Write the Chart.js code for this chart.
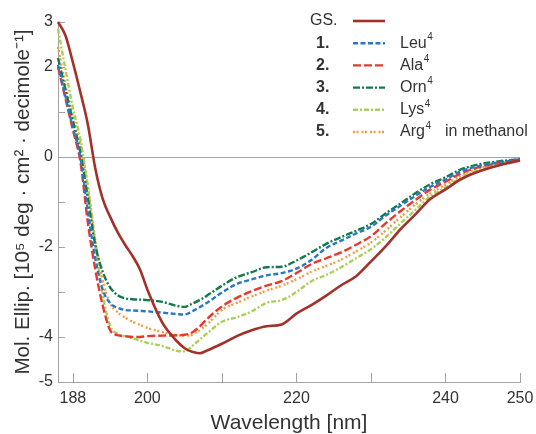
<!DOCTYPE html>
<html>
<head>
<meta charset="utf-8">
<script src="https://cdn.jsdelivr.net/npm/chart.js@4.4.1/dist/chart.umd.min.js"></script>
<style>
  html, body { margin: 0; padding: 0; background: #ffffff; }
  #wrap { width: 536px; height: 434px; position: relative; }
</style>
</head>
<body>
<div id="wrap"><canvas id="c" width="536" height="434"></canvas></div>
<script>
// ---- data ----
const wavelengths = [188,189,190,191,192,193,194,195,196,197,198,199,200,202,204,205,206,207,208,210,212,214,216,218,220,222,224,226,228,230,232,234,236,238,240,242,244,246,248,250];

const gsValues  = [3.0,2.7,2.1,1.44,0.73,-0.25,-0.93,-1.33,-1.67,-1.95,-2.2,-2.5,-2.95,-3.68,-4.1,-4.25,-4.33,-4.36,-4.3,-4.15,-3.98,-3.85,-3.76,-3.72,-3.48,-3.29,-3.08,-2.85,-2.65,-2.32,-1.98,-1.6,-1.27,-0.93,-0.72,-0.5,-0.35,-0.24,-0.15,-0.08];
const leuValues = [2.05,1.35,0.65,0.0,-1.2,-2.25,-2.95,-3.25,-3.35,-3.4,-3.41,-3.42,-3.43,-3.46,-3.49,-3.5,-3.43,-3.34,-3.24,-3.01,-2.82,-2.72,-2.63,-2.58,-2.48,-2.29,-2.02,-1.86,-1.7,-1.55,-1.3,-1.08,-0.86,-0.66,-0.5,-0.32,-0.22,-0.15,-0.1,-0.05];
const alaValues = [2.0,1.3,0.6,-0.1,-1.45,-2.5,-3.3,-3.85,-3.96,-3.98,-4.0,-4.0,-3.98,-3.97,-3.96,-3.95,-3.9,-3.77,-3.6,-3.32,-3.13,-2.98,-2.86,-2.76,-2.58,-2.38,-2.25,-2.12,-1.95,-1.76,-1.47,-1.2,-0.95,-0.72,-0.55,-0.37,-0.25,-0.17,-0.11,-0.06];
const ornValues = [2.2,1.5,0.8,0.1,-0.9,-1.95,-2.55,-2.9,-3.07,-3.14,-3.16,-3.17,-3.18,-3.22,-3.31,-3.33,-3.26,-3.18,-3.08,-2.86,-2.67,-2.56,-2.45,-2.44,-2.3,-2.12,-1.93,-1.78,-1.64,-1.49,-1.25,-1.03,-0.8,-0.6,-0.45,-0.28,-0.18,-0.12,-0.08,-0.05];
const lysValues = [2.85,1.95,1.1,0.4,-0.65,-1.9,-3.05,-3.75,-3.93,-3.98,-4.03,-4.08,-4.13,-4.2,-4.31,-4.32,-4.2,-4.06,-3.92,-3.66,-3.56,-3.43,-3.24,-3.18,-3.0,-2.76,-2.62,-2.45,-2.25,-2.05,-1.78,-1.47,-1.17,-0.87,-0.68,-0.47,-0.32,-0.22,-0.13,-0.07];
const argValues = [2.45,1.6,0.9,0.3,-0.65,-1.85,-2.75,-3.25,-3.45,-3.57,-3.66,-3.73,-3.8,-3.89,-3.96,-3.97,-3.95,-3.85,-3.72,-3.4,-3.24,-3.1,-2.97,-2.86,-2.72,-2.55,-2.42,-2.28,-2.1,-1.9,-1.63,-1.33,-1.05,-0.8,-0.62,-0.42,-0.28,-0.19,-0.12,-0.06];

const legendPrefixes = ['GS.','1.','2.','3.','4.','5.'];
const legendNames    = ['','Leu','Ala','Orn','Lys','Arg'];
const legendSup      = ['','4','4','4','4','4'];
const legendNote     = 'in methanol';

const xTickValues = [190,200,210,220,230,240,250];
const xTickLabels = ['188','200','','220','','240','250'];
const yTickValues = [3,2,1,0,-1,-2,-3,-4,-5];
const yTickLabels = ['3','2','','0','','-2','','-4','-5'];

const xTitle = 'Wavelength [nm]';
const yTitle = 'Mol. Ellip. [10\u2075 deg \u00b7 cm\u00b2 \u00b7 decimole\u207b\u00b9]';

// ---- styles ----
const seriesStyles = [
  {color:'#a2312a', width:2.6, dash:[]},
  {color:'#2b78c2', width:2.4, dash:[5,2.5]},
  {color:'#e8372d', width:2.4, dash:[8,3]},
  {color:'#137a4e', width:2.4, dash:[7,2,2,2]},
  {color:'#a9d05a', width:2.4, dash:[5,2,2,2]},
  {color:'#f29b42', width:2.4, dash:[2,1.5,2,3]}
];
const seriesValues = [gsValues, leuValues, alaValues, ornValues, lysValues, argValues];

const axisColor = '#a3a3a3';
const textColor = '#333333';
const FONT = '"Liberation Sans", Arial, sans-serif';

const datasets = seriesValues.map((vals, i) => ({
  label: legendPrefixes[i] + ' ' + legendNames[i],
  data: wavelengths.map((w, k) => ({x: w, y: vals[k]})),
  borderColor: seriesStyles[i].color,
  borderWidth: seriesStyles[i].width,
  borderDash: seriesStyles[i].dash,
  pointRadius: 0,
  fill: false,
  cubicInterpolationMode: 'monotone',
  clip: false
}));

const decorPlugin = {
  id: 'decor',
  beforeDatasetsDraw(chart) {
    const {ctx, chartArea} = chart;
    const xs = chart.scales.x, ys = chart.scales.y;
    ctx.save();
    ctx.strokeStyle = axisColor;
    ctx.lineWidth = 1;
    const y0 = Math.round(ys.getPixelForValue(0)) + 0.5;
    ctx.beginPath(); ctx.moveTo(chartArea.left, y0); ctx.lineTo(chartArea.right, y0); ctx.stroke();
    xTickValues.forEach(v => {
      const px = Math.round(xs.getPixelForValue(v)) + 0.5;
      ctx.beginPath(); ctx.moveTo(px, chartArea.bottom); ctx.lineTo(px, chartArea.bottom - 9); ctx.stroke();
    });
    yTickValues.forEach(v => {
      const py = Math.round(ys.getPixelForValue(v)) + 0.5;
      ctx.beginPath(); ctx.moveTo(chartArea.left, py); ctx.lineTo(chartArea.left + 7, py); ctx.stroke();
    });
    ctx.restore();
  },
  afterDraw(chart) {
    const ctx = chart.ctx;
    ctx.save();
    ctx.textBaseline = 'middle';
    ctx.fillStyle = textColor;
    legendPrefixes.forEach((p, i) => {
      const y = 21 + i * 22.2;
      ctx.font = (i === 0 ? '' : 'bold ') + '16px ' + FONT;
      ctx.textAlign = 'left';
      ctx.fillText(p, i === 0 ? 310 : 316, y);
      const st = seriesStyles[i];
      ctx.save();
      ctx.strokeStyle = st.color;
      ctx.lineWidth = st.width;
      ctx.setLineDash(st.dash);
      ctx.beginPath(); ctx.moveTo(353, y); ctx.lineTo(385, y); ctx.stroke();
      ctx.restore();
      if (legendNames[i]) {
        ctx.font = '16px ' + FONT;
        ctx.fillText(legendNames[i], 400, y);
        const w = ctx.measureText(legendNames[i]).width;
        ctx.font = '10px ' + FONT;
        ctx.fillText(legendSup[i], 400 + w + 0.5, y - 6);
      }
      if (i === legendPrefixes.length - 1) {
        ctx.font = '16px ' + FONT;
        ctx.fillText(legendNote, 445, y);
      }
    });
    ctx.restore();
  }
};

new Chart(document.getElementById('c'), {
  type: 'line',
  data: { datasets },
  options: {
    responsive: false,
    animation: false,
    events: [],
    layout: { padding: { top: 22, right: 16, left: 0, bottom: 0 } },
    plugins: { legend: { display: false }, tooltip: { enabled: false } },
    scales: {
      x: {
        type: 'linear',
        min: 188, max: 250,
        afterFit: s => { s.height = 52; s.paddingLeft = 0; s.paddingRight = 0; },
        afterBuildTicks: s => { s.ticks = xTickValues.map(v => ({value: v})); },
        ticks: {
          autoSkip: false, maxRotation: 0,
          padding: 7,
          color: textColor,
          font: { family: FONT, size: 16 },
          callback: (v) => { const i = xTickValues.indexOf(v); return i >= 0 ? xTickLabels[i] : ''; }
        },
        grid: { display: false, drawTicks: false },
        border: { display: true, color: axisColor, width: 1 },
        title: {
          display: true, text: xTitle, color: textColor,
          font: { family: FONT, size: 21, lineHeight: 1 },
          padding: { top: 0, bottom: 0 }
        }
      },
      y: {
        type: 'linear',
        min: -5, max: 3,
        afterFit: s => { s.width = 58; s.paddingTop = 0; s.paddingBottom = 0; },
        afterBuildTicks: s => { s.ticks = yTickValues.map(v => ({value: v})); },
        ticks: {
          autoSkip: false,
          padding: 5,
          color: textColor,
          font: { family: FONT, size: 16 },
          callback: (v) => { const i = yTickValues.indexOf(v); return i >= 0 ? yTickLabels[i] : ''; }
        },
        grid: { display: false, drawTicks: false },
        border: { display: true, color: axisColor, width: 1 },
        title: {
          display: true, text: yTitle, color: textColor,
          font: { family: FONT, size: 20.6, lineHeight: 1 },
          padding: { top: 13, bottom: 0 }
        }
      }
    }
  },
  plugins: [decorPlugin]
});
</script>
</body>
</html>
